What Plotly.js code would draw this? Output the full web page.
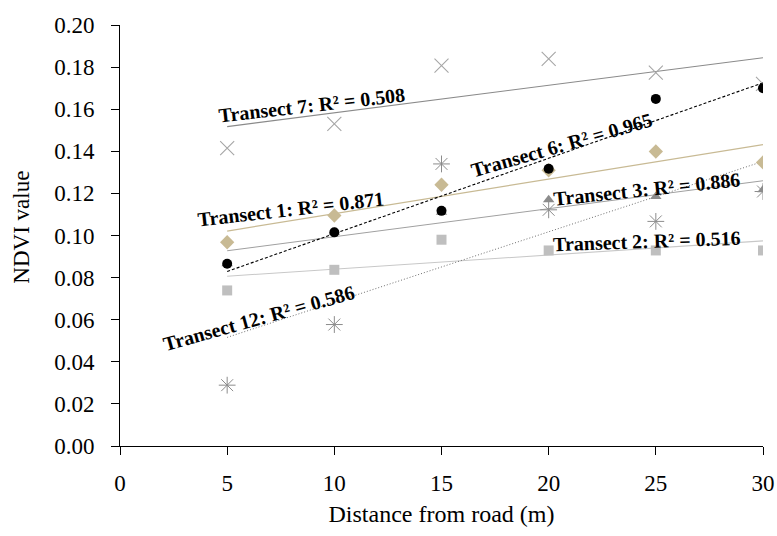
<!DOCTYPE html>
<html>
<head>
<meta charset="utf-8">
<script src="https://cdn.plot.ly/plotly-3.0.1.min.js"></script>
<style>html,body{margin:0;padding:0;background:#fff;}#chart{width:777px;height:536px;}</style>
</head>
<body>
<div id="chart"></div>
<script>
// Data
const distance = [5, 10, 15, 20, 25, 30];
const transect1 = [0.0968, 0.1095, 0.1241, 0.1310, 0.1399, 0.1347];
const transect2 = [0.0739, 0.0837, 0.0980, 0.0929, 0.0929, 0.0929];
const transect3 = [0.0866, 0.1015, 0.1110, 0.1170, 0.1185, 0.1217];
const transect6 = [0.0866, 0.1015, 0.1117, 0.1317, 0.1649, 0.1700];
const transect7 = [0.1415, 0.1530, 0.1807, 0.1839, 0.1774, 0.1720];
const transect12 = [0.0289, 0.0577, 0.1340, 0.1122, 0.1067, 0.1209];
const r2Labels = ["Transect 1: R² = 0.871", "Transect 2: R² = 0.516", "Transect 3: R² = 0.886",
                  "Transect 6: R² = 0.965", "Transect 7: R² = 0.508", "Transect 12: R² = 0.586"];
const xTicks = [0, 5, 10, 15, 20, 25, 30];
const xTitle = 'Distance from road (m)';
const yTitle = 'NDVI value';

function fit(xs, ys) {
  const n = xs.length;
  const mx = xs.reduce((a, b) => a + b, 0) / n;
  const my = ys.reduce((a, b) => a + b, 0) / n;
  let sxy = 0, sxx = 0;
  for (let i = 0; i < n; i++) { sxy += (xs[i] - mx) * (ys[i] - my); sxx += (xs[i] - mx) ** 2; }
  const m = sxy / sxx, b = my - m * mx;
  const x0 = xs[0], x1 = xs[n - 1];
  return {x: [x0, x1], y: [m * x0 + b, m * x1 + b]};
}

const series = [
  {y: transect2, marker: {symbol: 'square', size: 10, color: '#bfbfbf'}, line: {color: '#c8c8c8', width: 1.1}},
  {y: transect3, marker: {symbol: 'triangle-up', size: 10, color: '#8c8c8c'}, line: {color: '#a0a0a0', width: 1.1}},
  {y: transect12, marker: {symbol: 'asterisk-open', size: 14, color: '#8c8c8c', line: {width: 1, color: '#8c8c8c'}}, line: {color: '#6e6e6e', width: 1, dash: '1px,2px'}},
  {y: transect7, marker: {symbol: 'x-thin-open', size: 14, color: '#a6a6a6', line: {width: 1.1, color: '#a6a6a6'}}, line: {color: '#8a8a8a', width: 1.1}},
  {y: transect1, marker: {symbol: 'diamond', size: 11, color: '#c8ba94'}, line: {color: '#c8ba94', width: 1.3}},
  {y: transect6, marker: {symbol: 'circle', size: 10, color: '#000000'}, line: {color: '#000000', width: 1.1, dash: '3px,2px'}}
];

const traces = [];
series.forEach(s => {
  const f = fit(distance, s.y);
  traces.push({x: f.x, y: f.y, mode: 'lines', line: s.line, hoverinfo: 'skip'});
});
series.forEach(s => {
  traces.push({x: distance, y: s.y, mode: 'markers', marker: s.marker});
});

const serif = 'Liberation Serif, Times New Roman, serif';
const labelFont = {family: serif, size: 20, color: '#000'};
function ann(text, x, y, angle) {
  return {text: '<b>' + text + '</b>', x: x, y: y, xref: 'x', yref: 'y', showarrow: false,
          textangle: angle, font: labelFont, xanchor: 'center', yanchor: 'middle'};
}

const layout = {
  width: 777, height: 536,
  margin: {l: 120, r: 13.5, t: 25, b: 89.5},
  paper_bgcolor: '#fff', plot_bgcolor: '#fff',
  showlegend: false,
  font: {family: serif, size: 20, color: '#000'},
  xaxis: {
    range: [0, 30], tickvals: xTicks, ticks: 'outside', ticklen: 8, tickwidth: 1, tickcolor: '#000',
    showline: true, linecolor: '#000', linewidth: 1, showgrid: false, zeroline: false,
    tickfont: {size: 23}, ticklabelstandoff: 8, automargin: false,
    title: {text: xTitle, font: {size: 24}, standoff: 10}
  },
  yaxis: {
    range: [0, 0.2], dtick: 0.02, tickformat: '.2f', ticks: 'outside', ticklen: 8, tickwidth: 1, tickcolor: '#000',
    showline: true, linecolor: '#000', linewidth: 1, showgrid: false, zeroline: false,
    tickfont: {size: 23}, ticklabelstandoff: 12, automargin: false
  },
  annotations: [
    ann(r2Labels[4], 8.95, 0.1620, -6.5),
    ann(r2Labels[0], 7.97, 0.1127, -6.5),
    ann(r2Labels[3], 20.6, 0.1428, -16),
    ann(r2Labels[2], 24.6, 0.1222, -6),
    ann(r2Labels[1], 24.6, 0.0975, -2),
    ann(r2Labels[5], 6.48, 0.0608, -15.5),
    {text: yTitle, xref: 'paper', yref: 'paper', x: -0.1546, y: 0.52, showarrow: false,
     textangle: -90, font: {family: serif, size: 23, color: '#000'}, xanchor: 'center', yanchor: 'middle'}
  ]
};

Plotly.newPlot('chart', traces, layout, {displayModeBar: false, staticPlot: true});
</script>
</body>
</html>
